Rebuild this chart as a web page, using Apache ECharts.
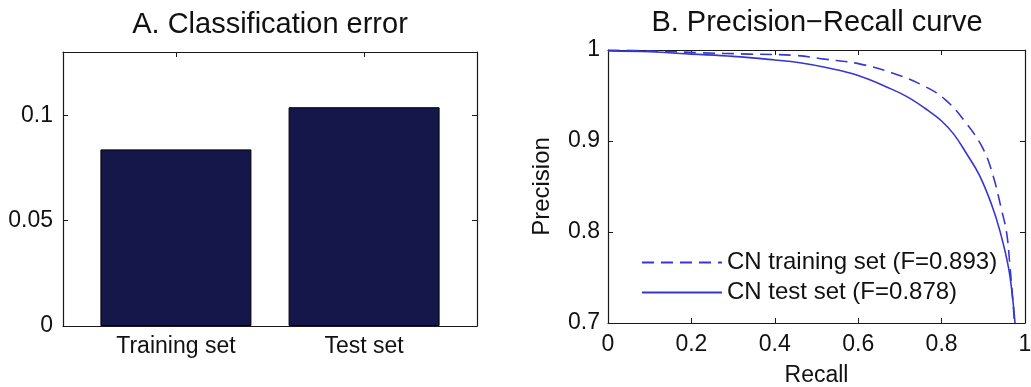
<!DOCTYPE html>
<html>
<head>
<meta charset="utf-8">
<script src="https://cdn.jsdelivr.net/npm/echarts@6/dist/echarts.min.js"></script>
<style>
html,body{margin:0;padding:0;background:#fff;}
#chart{width:1031px;height:387px;}
</style>
</head>
<body>
<div id="chart"></div>
<script>
// ---- Data ----
const categories = ['Training set', 'Test set'];
const classificationError = [0.0838, 0.1038];
const errorTicks = [0, 0.05, 0.1];

const trainRecall    = [0, 0.1, 0.22, 0.34, 0.45, 0.52, 0.6, 0.68, 0.76, 0.81, 0.86, 0.9, 0.924, 0.944, 0.956, 0.964, 0.970, 0.975];
const trainPrecision = [1.0, 0.999, 0.997, 0.9955, 0.994, 0.990, 0.985, 0.975, 0.960, 0.945, 0.919, 0.891, 0.861, 0.824, 0.799, 0.762, 0.729, 0.70];
const testRecall     = [0, 0.1, 0.2, 0.3, 0.4, 0.46, 0.52, 0.6, 0.68, 0.72, 0.76, 0.8, 0.83, 0.86, 0.89, 0.92, 0.94, 0.96, 0.97, 0.976];
const testPrecision  = [0.999, 0.998, 0.9955, 0.993, 0.989, 0.986, 0.981, 0.972, 0.957, 0.948, 0.936, 0.922, 0.907, 0.886, 0.863, 0.830, 0.801, 0.762, 0.729, 0.70];
const recallTicks = [0, 0.2, 0.4, 0.6, 0.8, 1];
const precisionTicks = [0.7, 0.8, 0.9, 1];
const seriesNames = ['CN training set (F=0.893)', 'CN test set (F=0.878)'];

const FONT = '"Liberation Sans", Arial, Helvetica, sans-serif';
const lineBlue = '#3636d0';
const axisCol = '#1a1a1a';

function boxAxis(extra) {
  return Object.assign({
    axisLine: {show: true, onZero: false, lineStyle: {color: axisCol, width: 1.2}},
    axisTick: {show: true, inside: true, length: 5, lineStyle: {color: axisCol, width: 1.2}},
    splitLine: {show: false},
    axisLabel: {color: '#111', fontFamily: FONT, fontSize: 23}
  }, extra);
}

const chart = echarts.init(document.getElementById('chart'));
chart.setOption({
  animation: false,
  backgroundColor: '#fff',
  title: [
    {text: 'A. Classification error', left: 265, top: 5, textAlign: 'center',
     textStyle: {fontFamily: FONT, fontSize: 29, fontWeight: 'normal', color: '#111'}},
    {text: 'B. Precision\u2212Recall curve', left: 812, top: 3, textAlign: 'center',
     textStyle: {fontFamily: FONT, fontSize: 29, fontWeight: 'normal', color: '#111'}}
  ],
  grid: [
    {left: 63, right: 554, top: 52, bottom: 61, outerBoundsMode: 'none', containLabel: false},
    {left: 608, right: 6, top: 50, bottom: 64, outerBoundsMode: 'none', containLabel: false}
  ],
  legend: {
    orient: 'vertical', left: 636, top: 245,
    itemWidth: 80, itemHeight: 14, itemGap: 5,
    itemStyle: {opacity: 0},
    textStyle: {fontFamily: FONT, fontSize: 24, color: '#111', lineHeight: 25},
    data: seriesNames
  },
  xAxis: [
    boxAxis({gridIndex: 0, type: 'value', position: 'bottom', min: 0.4, max: 2.6,
      axisTick: {show: true, inside: true, length: 5, customValues: [1, 2], lineStyle: {color: axisCol}},
      axisLabel: {color: '#111', fontFamily: FONT, fontSize: 23, margin: 9, customValues: [1, 2],
        formatter: v => categories[Math.round(v) - 1] || ''}}),
    boxAxis({gridIndex: 0, type: 'value', position: 'top', min: 0.4, max: 2.6,
      axisTick: {show: true, inside: true, length: 5, customValues: [1, 2], lineStyle: {color: axisCol}},
      axisLabel: {show: false}}),
    boxAxis({gridIndex: 1, type: 'value', position: 'bottom', min: 0, max: 1,
      axisTick: {show: true, inside: true, length: 5, customValues: recallTicks, lineStyle: {color: axisCol}},
      axisLabel: {color: '#111', fontFamily: FONT, fontSize: 23, margin: 10, customValues: recallTicks,
        formatter: v => String(+v.toFixed(1))},
      name: 'Recall', nameLocation: 'middle', nameGap: 41,
      nameTextStyle: {fontFamily: FONT, fontSize: 23, color: '#111'}}),
    boxAxis({gridIndex: 1, type: 'value', position: 'top', min: 0, max: 1,
      axisTick: {show: true, inside: true, length: 5, customValues: recallTicks, lineStyle: {color: axisCol}},
      axisLabel: {show: false}})
  ],
  yAxis: [
    boxAxis({gridIndex: 0, type: 'value', position: 'left', min: 0, max: 0.13,
      axisTick: {show: true, inside: true, length: 5, customValues: errorTicks, lineStyle: {color: axisCol}},
      axisLabel: {color: '#111', fontFamily: FONT, fontSize: 23, margin: 10, customValues: errorTicks,
        formatter: v => String(+v.toFixed(2))}}),
    boxAxis({gridIndex: 0, type: 'value', position: 'right', min: 0, max: 0.13,
      axisTick: {show: true, inside: true, length: 5, customValues: errorTicks, lineStyle: {color: axisCol}},
      axisLabel: {show: false}}),
    boxAxis({gridIndex: 1, type: 'value', position: 'left', min: 0.7, max: 1,
      axisTick: {show: true, inside: true, length: 5, customValues: precisionTicks, lineStyle: {color: axisCol}},
      axisLabel: {color: '#111', fontFamily: FONT, fontSize: 23, margin: 8, customValues: precisionTicks,
        formatter: v => String(+v.toFixed(1))},
      name: 'Precision', nameLocation: 'middle', nameGap: 54, nameRotate: 90,
      nameTextStyle: {fontFamily: FONT, fontSize: 24, color: '#111'}}),
    boxAxis({gridIndex: 1, type: 'value', position: 'right', min: 0.7, max: 1,
      axisTick: {show: true, inside: true, length: 5, customValues: precisionTicks, lineStyle: {color: axisCol}},
      axisLabel: {show: false}})
  ],
  series: [
    {
      type: 'bar', xAxisIndex: 0, yAxisIndex: 0, barWidth: 151,
      itemStyle: {color: '#15164a', borderColor: '#000', borderWidth: 1},
      data: categories.map((c, i) => [i + 1, classificationError[i]])
    },
    {
      name: seriesNames[0], type: 'line', xAxisIndex: 2, yAxisIndex: 2,
      showSymbol: false, symbol: 'none', smooth: 0.4,
      lineStyle: {color: lineBlue, width: 1.6, type: [12, 7]},
      itemStyle: {color: lineBlue},
      data: trainRecall.map((r, i) => [r, trainPrecision[i]])
    },
    {
      name: seriesNames[1], type: 'line', xAxisIndex: 2, yAxisIndex: 2,
      showSymbol: false, symbol: 'none', smooth: 0.4,
      lineStyle: {color: lineBlue, width: 1.6},
      itemStyle: {color: lineBlue},
      data: testRecall.map((r, i) => [r, testPrecision[i]])
    }
  ]
});
</script>
</body>
</html>
